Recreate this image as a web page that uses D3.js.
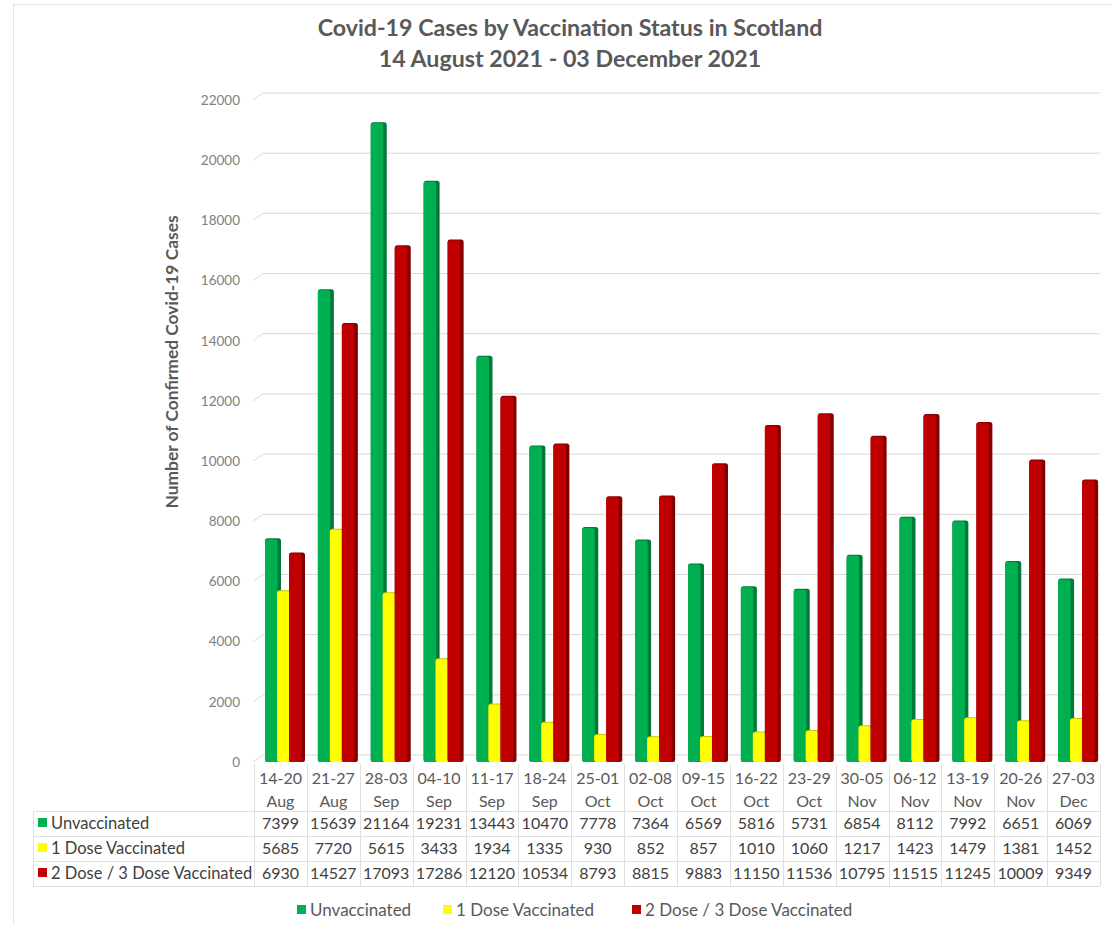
<!DOCTYPE html>
<html>
<head>
<meta charset="utf-8">
<script src="https://cdn.jsdelivr.net/npm/d3@7"></script>
<style>
  body { margin: 0; background: #fff; }
  svg { display: block; font-family: Lato, "Open Sans", sans-serif; }
</style>
</head>
<body>
<svg id="chart" width="1111" height="925"></svg>
<script>
// ─── Data ───────────────────────────────────────────────────────────────────
const weekStart = ['14-20', '21-27', '28-03', '04-10', '11-17', '18-24', '25-01', '02-08',
                   '09-15', '16-22', '23-29', '30-05', '06-12', '13-19', '20-26', '27-03'];
const weekMonth = ['Aug', 'Aug', 'Sep', 'Sep', 'Sep', 'Sep', 'Oct', 'Oct',
                   'Oct', 'Oct', 'Oct', 'Nov', 'Nov', 'Nov', 'Nov', 'Dec'];
const unvaccinated = [7399, 15639, 21164, 19231, 13443, 10470, 7778, 7364,
                      6569, 5816, 5731, 6854, 8112, 7992, 6651, 6069];
const oneDose = [5685, 7720, 5615, 3433, 1934, 1335, 930, 852,
                 857, 1010, 1060, 1217, 1423, 1479, 1381, 1452];
const twoDose = [6930, 14527, 17093, 17286, 12120, 10534, 8793, 8815,
                 9883, 11150, 11536, 10795, 11515, 11245, 10009, 9349];
const seriesNames = ['Unvaccinated', '1 Dose Vaccinated', '2 Dose / 3 Dose Vaccinated'];
const seriesColors = ['#00b050', '#ffff00', '#c00000'];
const seriesSide = ['#007a38', '#c8c800', '#850000'];
const yTicks = d3.range(0, 22001, 2000);

// ─── Layout ─────────────────────────────────────────────────────────────────
const X0 = 254, X1 = 1100;        // plot / table value columns
const Y0 = 762, Y1 = 100;         // axis labels: 0 → Y0, 22000 → Y1
const BAR_TOP = 97;               // bars are drawn a touch taller (front face)
const DEPTH_X = 9, DEPTH_Y = 7;   // fake 3D back-wall offset
const TABLE_LEFT = 33;
const ROW_Y = [823, 848, 873];
const TEXT = '#595959';

const series = [unvaccinated, oneDose, twoDose];

const svg = d3.select('#chart');

// outer frame
svg.append('rect')
  .attr('x', 13.5).attr('y', 4.5)
  .attr('width', 1120).attr('height', 940)
  .attr('fill', 'none').attr('stroke', '#e3e3e3');

const x = d3.scaleBand().domain(d3.range(weekStart.length)).range([X0, X1]);
const y = d3.scaleLinear().domain([0, 22000]).range([Y0, Y1]);
const yBar = d3.scaleLinear().domain([0, 22000]).range([Y0, BAR_TOP]);
const inner = d3.scaleBand().domain([0, 1, 2]).range([11, 47]);

// ── Title ─────────────────────────────────────────────────────────────────
const title = svg.append('text')
  .attr('text-anchor', 'middle')
  .attr('fill', TEXT)
  .style('font-size', '23.2px')
  .style('font-weight', 'bold');
title.append('tspan').attr('x', 570).attr('y', 36).text('Covid-19 Cases by Vaccination Status in Scotland');
title.append('tspan').attr('x', 570).attr('y', 67).text('14 August 2021 - 03 December 2021');

// ── Gridlines (back wall) ──────────────────────────────────────────────────
const grid = svg.append('g').attr('stroke', '#d9d9d9').attr('fill', 'none');
yTicks.forEach(t => {
  const yy = y(t);
  grid.append('path')
    .attr('d', `M${X0 - 1},${yy}L${X0 + DEPTH_X},${yy - DEPTH_Y}H${X1}`);
});

// ── Y axis labels ─────────────────────────────────────────────────────────
const yAxis = svg.append('g')
  .attr('transform', `translate(${X0 - 14},0)`)
  .call(d3.axisLeft(y).tickValues(yTicks).tickSize(0).tickPadding(0).tickFormat(d3.format('d')));
yAxis.select('.domain').remove();
yAxis.selectAll('text')
  .attr('fill', '#7f7f7f')
  .style('font-size', '13.5px')
  .style('font-family', 'Lato, sans-serif');

svg.append('text')
  .attr('transform', 'translate(178,362) rotate(-90)')
  .attr('text-anchor', 'middle')
  .attr('fill', TEXT)
  .style('font-size', '17.4px')
  .style('font-weight', 'bold')
  .text('Number of Confirmed Covid-19 Cases');

// ── Bars ──────────────────────────────────────────────────────────────────
const barW = inner.bandwidth() + 4;
series.forEach((vals, s) => {
  const g = svg.append('g');
  const bar = g.selectAll('g')
    .data(vals)
    .join('g')
    .attr('transform', (d, i) => `translate(${x(i) + inner(s)},0)`);
  bar.append('rect')
    .attr('x', 0)
    .attr('y', d => yBar(d))
    .attr('width', barW)
    .attr('height', d => Y0 - yBar(d))
    .attr('rx', 2.5)
    .attr('fill', seriesSide[s]);
  bar.append('rect')
    .attr('x', 0)
    .attr('y', d => yBar(d) + 1)
    .attr('width', barW - 3.5)
    .attr('height', d => Y0 - yBar(d) - 1)
    .attr('rx', 2)
    .attr('fill', seriesColors[s]);
});

// ── Data table ────────────────────────────────────────────────────────────
const tbl = svg.append('g');
const lineColor = '#e0e0e0';
// horizontal lines
tbl.append('path').attr('stroke', lineColor).attr('fill', 'none')
  .attr('d', [811, 836, 861, 886].map(v => `M${TABLE_LEFT},${v + 0.5}H${X1}`).join(''));
// vertical lines
const vx = [X0, ...d3.range(weekStart.length).map(i => x(i) + x.bandwidth())];
tbl.append('path').attr('stroke', lineColor).attr('fill', 'none')
  .attr('d', vx.map(v => `M${Math.round(v) + 0.5},764V886`).join('') +
             `M${TABLE_LEFT + 0.5},811V886`);

const headers = tbl.append('g')
  .attr('text-anchor', 'middle')
  .attr('fill', TEXT)
  .style('font-size', '16px');
headers.selectAll('text.h1')
  .data(weekStart).join('text').attr('class', 'h1')
  .attr('x', (d, i) => x(i) + x.bandwidth() / 2)
  .attr('y', 784)
  .text(d => d);
headers.selectAll('text.h2')
  .data(weekMonth).join('text').attr('class', 'h2')
  .attr('x', (d, i) => x(i) + x.bandwidth() / 2)
  .attr('y', 807)
  .text(d => d);

series.forEach((vals, s) => {
  const row = tbl.append('g').attr('fill', '#404040').style('font-size', '16.5px');
  row.append('rect')
    .attr('x', 38).attr('y', ROW_Y[s] - 5)
    .attr('width', 9).attr('height', 9)
    .attr('fill', seriesColors[s]);
  row.append('text')
    .attr('x', 51).attr('y', ROW_Y[s] + 6)
    .text(seriesNames[s]);
  row.selectAll('text.v')
    .data(vals).join('text').attr('class', 'v')
    .attr('text-anchor', 'middle')
    .attr('x', (d, i) => x(i) + x.bandwidth() / 2)
    .attr('y', ROW_Y[s] + 6)
    .style('font-size', '16px')
    .text(d => d);
});

// ── Legend ────────────────────────────────────────────────────────────────
const legendX = [297, 443, 632];
const legend = svg.append('g').style('font-size', '17px').attr('fill', TEXT);
seriesNames.forEach((name, s) => {
  legend.append('rect')
    .attr('x', legendX[s]).attr('y', 905)
    .attr('width', 9).attr('height', 9)
    .attr('fill', seriesColors[s]);
  legend.append('text')
    .attr('x', legendX[s] + 13).attr('y', 916)
    .text(name);
});
</script>
</body>
</html>
